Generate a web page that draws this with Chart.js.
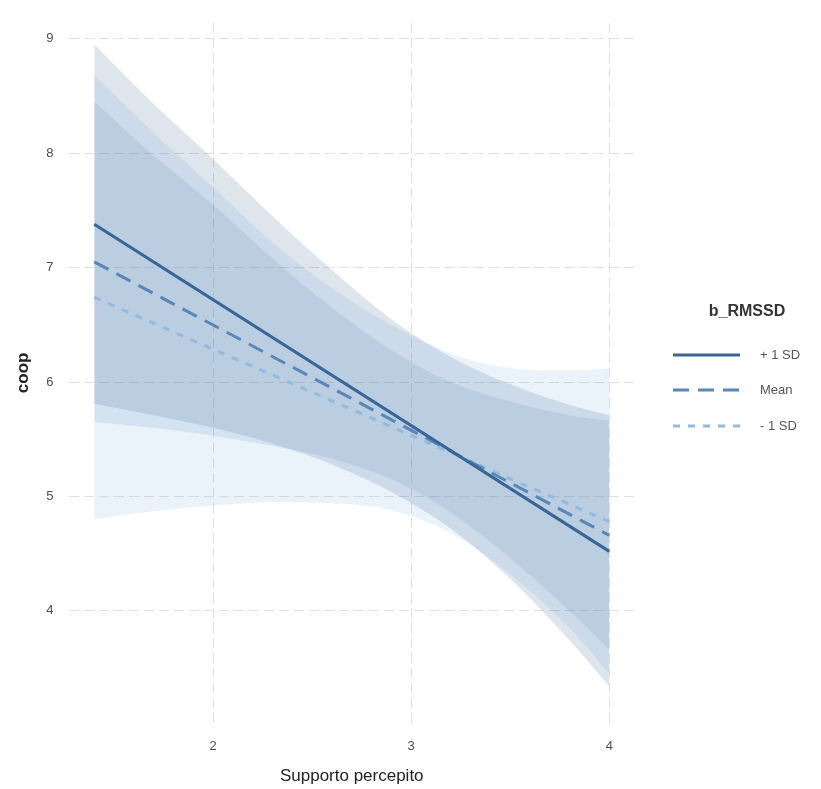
<!DOCTYPE html>
<html>
<head>
<meta charset="utf-8">
<script src="https://cdn.jsdelivr.net/npm/chart.js@4/dist/chart.umd.min.js"></script>
<style>
  html, body { margin: 0; padding: 0; background: #fff; }
  #wrap { width: 821px; height: 789px; }
</style>
</head>
<body>
<div id="wrap"><canvas id="plot" width="821" height="789"></canvas></div>
<script>
// ribbon x positions and edges
const bandX = [1.4, 1.7, 2.0, 2.3, 2.6, 2.9, 3.2, 3.5, 3.8, 4.0];
const hiUpper = [8.95, 8.43, 7.95, 7.45, 6.98, 6.55, 6.22, 5.98, 5.80, 5.71];
const hiLower = [5.81, 5.71, 5.60, 5.46, 5.28, 5.04, 4.72, 4.28, 3.74, 3.34];
const meanUpper = [8.45, 7.98, 7.55, 7.08, 6.65, 6.28, 6.00, 5.83, 5.71, 5.66];
const meanLower = [5.65, 5.60, 5.53, 5.44, 5.33, 5.15, 4.86, 4.46, 4.00, 3.66];
const loUpper = [8.68, 8.18, 7.70, 7.22, 6.82, 6.50, 6.25, 6.12, 6.10, 6.12];
const loLower = [4.80, 4.87, 4.92, 4.95, 4.94, 4.88, 4.68, 4.32, 3.85, 3.45];

// fitted lines (end points)
const lineX = [1.4, 4.0];
const hiLine = [7.38, 4.52];
const meanLine = [7.05, 4.66];
const loLine = [6.74, 4.78];

const seriesNames = ['+ 1 SD', 'Mean', '- 1 SD'];
const xTicks = [2, 3, 4];
const yTicks = [4, 5, 6, 7, 8, 9];

const FONT = '"Liberation Sans", Arial, sans-serif';

const toPts = (xs, ys) => xs.map((x, i) => ({ x: x, y: ys[i] }));

function bandPair(upper, lower, fillColor) {
    const common = {
        borderWidth: 0,
        pointRadius: 0,
        cubicInterpolationMode: 'monotone',
        order: 2
    };
    return [
        Object.assign({ data: toPts(bandX, upper), fill: false }, common),
        Object.assign({ data: toPts(bandX, lower), fill: '-1', backgroundColor: fillColor }, common)
    ];
}

const styles = [
    { color: '#3a6597', dash: [] },
    { color: '#5a86b8', dash: [16, 9] },
    { color: '#93badf', dash: [7, 8] }
];

function lineSet(ys, st) {
    return {
        data: toPts(lineX, ys),
        borderColor: st.color,
        borderWidth: 3,
        borderDash: st.dash,
        pointRadius: 0,
        fill: false,
        order: 0
    };
}

// legend drawn by hand at the right side
const sideLegend = {
    id: 'sideLegend',
    afterDraw(chart) {
        const ctx = chart.ctx;
        ctx.save();
        ctx.fillStyle = '#333';
        ctx.font = 'bold 16px ' + FONT;
        ctx.textAlign = 'center';
        ctx.textBaseline = 'middle';
        ctx.fillText('b_RMSSD', 747, 312);

        const rows = [355, 390, 426];
        ctx.font = '13px ' + FONT;
        ctx.textAlign = 'left';
        seriesNames.forEach((name, i) => {
            ctx.beginPath();
            ctx.strokeStyle = styles[i].color;
            ctx.lineWidth = 3;
            ctx.setLineDash(styles[i].dash);
            ctx.moveTo(673, rows[i]);
            ctx.lineTo(740, rows[i]);
            ctx.stroke();
            ctx.setLineDash([]);
            ctx.fillStyle = '#555';
            ctx.fillText(name, 760, rows[i]);
        });
        ctx.restore();
    }
};

const ctx = document.getElementById('plot').getContext('2d');
new Chart(ctx, {
    type: 'line',
    data: {
        datasets: [
            lineSet(hiLine, styles[0]),
            lineSet(meanLine, styles[1]),
            lineSet(loLine, styles[2]),
            ...bandPair(hiUpper, hiLower, 'rgba(60, 100, 150, 0.17)'),
            ...bandPair(meanUpper, meanLower, 'rgba(90, 140, 195, 0.15)'),
            ...bandPair(loUpper, loLower, 'rgba(140, 185, 230, 0.18)')
        ]
    },
    options: {
        responsive: false,
        animation: false,
        layout: { padding: { top: 5, right: 186, left: 0, bottom: 0 } },
        plugins: {
            legend: { display: false },
            tooltip: { enabled: false },
            filler: { drawTime: 'beforeDatasetsDraw' }
        },
        scales: {
            x: {
                type: 'linear',
                min: 1.27,
                max: 4.13,
                afterBuildTicks: s => { s.ticks = xTicks.map(v => ({ value: v })); },
                afterFit: s => { s.height = 66; },
                border: { display: false, dash: [10, 5] },
                grid: { color: '#e0e0e0', lineWidth: 1, drawTicks: false },
                ticks: { color: '#4d4d4d', font: { family: FONT, size: 13 }, padding: 16 },
                title: {
                    display: true,
                    text: 'Supporto percepito',
                    color: '#222',
                    font: { family: FONT, size: 17 },
                    padding: { top: 0, bottom: 2 }
                }
            },
            y: {
                type: 'linear',
                min: 3.02,
                max: 9.14,
                afterBuildTicks: s => { s.ticks = yTicks.map(v => ({ value: v })); },
                afterFit: s => { s.width = 68.5; },
                border: { display: false, dash: [10, 5] },
                grid: { color: '#e0e0e0', lineWidth: 1, drawTicks: false },
                ticks: { color: '#4d4d4d', font: { family: FONT, size: 13 }, padding: 15 },
                title: {
                    display: true,
                    text: 'coop',
                    color: '#222',
                    font: { family: FONT, size: 17, weight: 'bold' },
                    padding: { top: 13, bottom: 0 }
                }
            }
        }
    },
    plugins: [sideLegend]
});
</script>
</body>
</html>
